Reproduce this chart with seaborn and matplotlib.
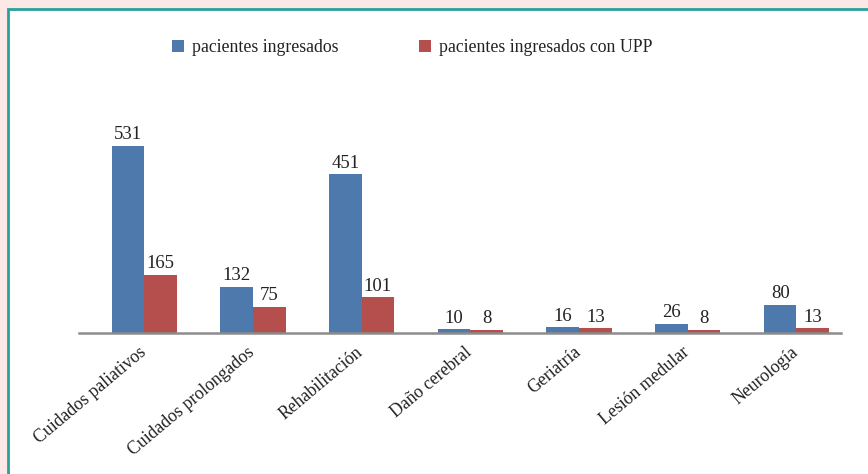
import matplotlib
matplotlib.use("Agg")
import matplotlib.pyplot as plt
from matplotlib.patches import Rectangle, Patch
from matplotlib.transforms import ScaledTranslation
import seaborn as sns
import pandas as pd

categories = ["Cuidados paliativos", "Cuidados prolongados", "Rehabilitación",
              "Daño cerebral", "Geriatría", "Lesión medular", "Neurología"]
series_names = ["pacientes ingresados", "pacientes ingresados con UPP"]
ingresados = [531, 132, 451, 10, 16, 26, 80]
con_upp = [165, 75, 101, 8, 13, 8, 13]
colors = ["#4E79AD", "#B44F4D"]

df = pd.DataFrame({
    "categoria": categories * 2,
    "serie": [series_names[0]] * len(categories) + [series_names[1]] * len(categories),
    "valor": ingresados + con_upp,
})

sns.set_theme(style="white")
plt.rcParams["font.family"] = ["Liberation Serif", "DejaVu Serif"]

W, H = 868, 474
fig = plt.figure(figsize=(W / 100, H / 100), dpi=100)
fig.patch.set_facecolor("#FCE9E7")
panel = Rectangle((8 / W, -0.1), 1.2, (H - 9) / H + 0.1,
                  transform=fig.transFigure, facecolor="white",
                  edgecolor="#2AA198", linewidth=2, zorder=-10)
fig.add_artist(panel)

ax = fig.add_axes([79 / W, (H - 333) / H, 762 / W, 211 / H])
ax.set_zorder(5)
ax.set_facecolor("none")
sns.barplot(data=df, x="categoria", y="valor", hue="serie", palette=colors,
            width=0.6, gap=0, ax=ax, legend=False, saturation=1, linewidth=0)

for cont in ax.containers:
    ax.bar_label(cont, padding=2, fontsize=13.5, color="#222222")

ax.set_xlim(-0.6, 6.41)
ax.set_ylim(0, 600)
ax.set_xlabel("")
ax.set_ylabel("")
ax.set_yticks([])
for s in ["top", "right", "left"]:
    ax.spines[s].set_visible(False)
ax.spines["bottom"].set_color("#8C8C8C")
ax.spines["bottom"].set_linewidth(1.8)
ax.tick_params(axis="x", length=0, pad=4)
ax.set_xticks(range(len(categories)))
ax.set_xticklabels(categories, rotation=40, ha="right", rotation_mode="anchor",
                   fontsize=12.8, color="#222222")
shift = ScaledTranslation(-6 / 100, -5 / 100, fig.dpi_scale_trans)
for lbl in ax.get_xticklabels():
    lbl.set_transform(lbl.get_transform() + shift)

handles = [Patch(facecolor=c, edgecolor="none") for c in colors]
fig.legend(handles, series_names, loc="center left",
           bbox_to_anchor=(172 / W, 1 - 48 / H), ncol=2, frameon=False,
           fontsize=12.8, handlelength=0.65, handleheight=0.65, handletextpad=0.5,
           columnspacing=4.5, borderpad=0, borderaxespad=0, labelcolor="#222222")

fig.savefig("out.png", dpi=100)
